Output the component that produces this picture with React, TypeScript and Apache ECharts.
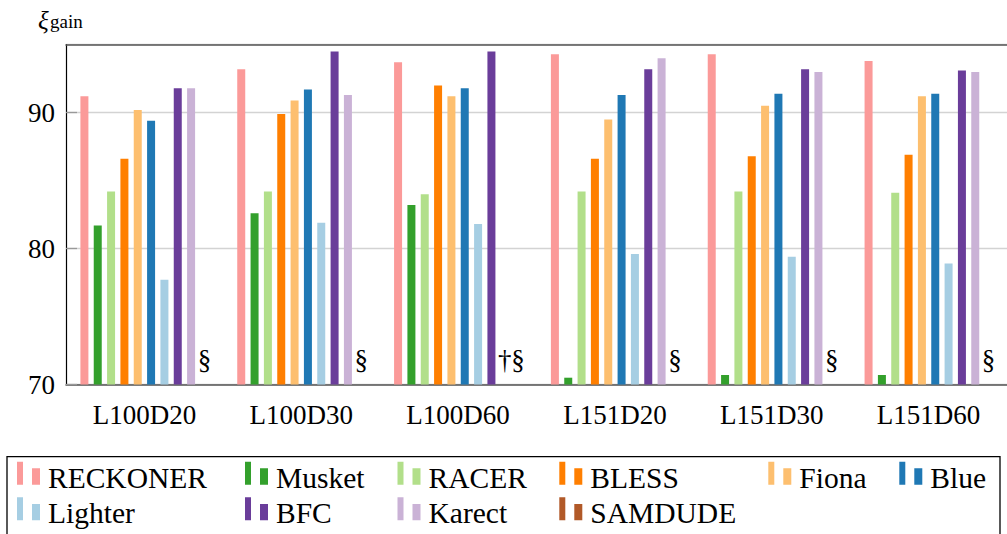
import React, { useEffect, useRef } from "react";
import * as echarts from "echarts";

// ---- data ----
const categories = ["L100D20", "L100D30", "L100D60", "L151D20", "L151D30", "L151D60"];
const seriesNames = ["RECKONER", "Musket", "RACER", "BLESS", "Fiona", "Blue", "Lighter", "BFC", "Karect", "SAMDUDE"];
const seriesColors = ["#fb9a99", "#33a02c", "#b2df8a", "#ff7f00", "#fdbf6f", "#1f78b4", "#a6cee3", "#6a3d9a", "#cab2d6", "#b15928"];

const reckoner = [91.2, 93.2, 93.7, 94.3, 94.3, 93.8];
const musket = [81.7, 82.6, 83.2, 70.5, 70.7, 70.7];
const racer = [84.2, 84.2, 84.0, 84.2, 84.2, 84.1];
const bless = [86.6, 89.9, 92.0, 86.6, 86.8, 86.9];
const fiona = [90.2, 90.9, 91.2, 89.5, 90.5, 91.2];
const blue = [89.4, 91.7, 91.8, 91.3, 91.4, 91.4];
const lighter = [77.7, 81.9, 81.8, 79.6, 79.4, 78.9];
const bfc = [91.8, 94.5, 94.5, 93.2, 93.2, 93.1];
const karect: (number | null)[] = [91.8, 91.3, null, 94.0, 93.0, 93.0];
const samdude: (number | null)[] = [null, null, null, null, null, null];

// footnote marks shown where a tool gave no result
const karectNotes = ["", "", "†", "", "", ""];
const samdudeNotes = ["§", "§", "§", "§", "§", "§"];

const seriesValues: (number | null)[][] = [reckoner, musket, racer, bless, fiona, blue, lighter, bfc, karect, samdude];
const seriesNotes: string[][] = [[], [], [], [], [], [], [], [], karectNotes, samdudeNotes];

const yMin = 70;
const yMax = 95;
const yInterval = 10;

const legendColumns = [
  ["RECKONER", "Lighter"],
  ["Musket", "BFC"],
  ["RACER", "Karect"],
  ["BLESS", "SAMDUDE"],
  ["Fiona"],
  ["Blue"],
];
const legendColumnLeft = [17, 245, 397.5, 559.3, 768.3, 899.3];

const FONT = "Liberation Serif";
const legendIcon = "path://M0,0h6v23h-6Z M15,6.6h8v16.4h-8Z M26,32L26,32Z";

export default function App() {
  const ref = useRef<HTMLDivElement>(null);

  useEffect(() => {
    if (!ref.current) return;
    const chart = echarts.init(ref.current, null, { renderer: "svg" });

    const series = seriesNames.map((name, si) => ({
      name,
      type: "bar" as const,
      xAxisIndex: 0,
      yAxisIndex: 0,
      barWidth: 8,
      barGap: "66.7%",
      itemStyle: { color: seriesColors[si] },
      data: seriesValues[si].map((v, ci) => {
        const note = seriesNotes[si][ci];
        if (v == null && note) {
          return {
            value: yMin,
            itemStyle: { color: "rgba(0,0,0,0)", borderWidth: 0 },
            label: {
              show: true,
              formatter: note,
              position: "top",
              distance: 11,
              fontFamily: FONT,
              fontSize: 27,
              color: "#000",
            },
          };
        }
        return v;
      }),
    }));

    const legends = legendColumns.map((names, i) => ({
      data: names,
      orient: "vertical",
      left: legendColumnLeft[i],
      top: 461.7,
      padding: 0,
      itemGap: 3.6,
      itemWidth: 26,
      itemHeight: 32,
      icon: legendIcon,
      selectedMode: false,
      textStyle: { fontFamily: FONT, fontSize: 29.5, color: "#000" },
    }));

    chart.setOption({
      animation: false,
      textStyle: { fontFamily: FONT },
      grid: { left: 66, top: 44.7, width: 951.6, height: 339.8, containLabel: false },
      xAxis: [
        {
          type: "category",
          data: categories,
          position: "bottom",
          axisLine: { lineStyle: { color: "#555", width: 1.5 } },
          axisTick: { alignWithLabel: true, length: 11, lineStyle: { color: "#999", width: 1.3 } },
          axisLabel: { fontFamily: FONT, fontSize: 27, color: "#000", margin: 17 },
          splitLine: { show: false },
        },
        {
          type: "category",
          data: categories,
          position: "top",
          axisLine: { lineStyle: { color: "#555", width: 1.5 } },
          axisTick: { show: false },
          axisLabel: { show: false },
          splitLine: { show: false },
        },
      ],
      yAxis: {
        type: "value",
        min: yMin,
        max: yMax,
        interval: yInterval,
        axisLine: { show: true, lineStyle: { color: "#000", width: 1.2 } },
        axisTick: { show: true, inside: true, length: 11, lineStyle: { color: "#999", width: 1.3 } },
        axisLabel: { fontFamily: FONT, fontSize: 27, color: "#000", margin: 11, showMaxLabel: false },
        splitLine: { show: true, lineStyle: { color: "#d3d3d3", width: 1.3 } },
      },
      legend: legends,
      series,
      graphic: [
        {
          type: "text",
          left: 38,
          top: 8,
          style: { text: "ξ", fontFamily: FONT, fontStyle: "italic", fontSize: 25, fill: "#000" },
        },
        {
          type: "text",
          left: 50,
          top: 12,
          style: { text: "gain", fontFamily: FONT, fontSize: 19, fill: "#000" },
        },
        {
          type: "rect",
          shape: { x: 7, y: 456.7, width: 993, height: 120 },
          style: { fill: "none", stroke: "#000", lineWidth: 1.3 },
          silent: true,
        },
      ],
    });

    return () => chart.dispose();
  }, []);

  return (
    <div
      ref={ref}
      style={{ position: "absolute", left: 0, top: 0, width: 1007, height: 534, background: "#fff" }}
    />
  );
}
